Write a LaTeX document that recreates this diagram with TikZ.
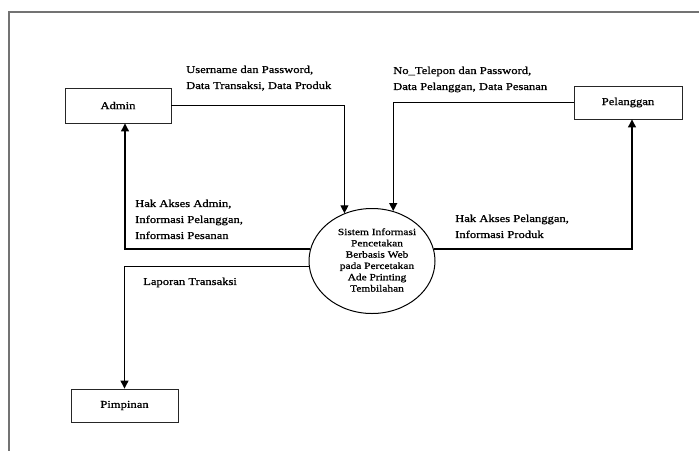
\documentclass[tikz,border=0pt]{standalone}
\usepackage{fontspec}
\setmainfont{Liberation Serif}[FakeStretch=1.2,FakeBold=0.9]
\usetikzlibrary{arrows.meta,shapes.geometric}
\begin{document}
\begin{tikzpicture}[x=1pt,y=-1pt,
  entity/.style={draw=black!85,line width=0.9pt,minimum width=106pt,minimum height=35pt,
    inner sep=0pt,font=\fontsize{10.5}{12}\selectfont},
  flow/.style={line width=1.2pt,-{Triangle[length=8pt,width=8pt]}},
  lbl/.style={anchor=north west,inner sep=0pt,align=left,font=\fontsize{10.5}{16}\selectfont}]
\useasboundingbox (0,0) rectangle (699,451);
% page frame
\draw[black!55, line width=1.3pt] (699,12) -- (9,12) -- (9,451);

% external entities
\node[entity] (admin) at (118,105.5) {Admin};
\node[entity, minimum width=108pt, minimum height=33pt] (pel) at (628,102.5) {Pelanggan};
\node[entity, minimum width=107pt, minimum height=33pt] (pimp) at (124.5,405.5) {Pimpinan};

% process
\node[draw, ellipse, line width=1pt, minimum width=126pt, minimum height=105pt, inner sep=0pt] (sys) at (372,261) {};
\node[inner sep=0pt, align=center, font=\fontsize{9.5}{11.3}\selectfont] (systext) at (377,260)
  {Sistem Informasi\\Pencetakan\\Berbasis Web\\pada Percetakan\\Ade Printing\\Tembilahan};

% data flows
\draw[flow] (admin.east) -| (sys.120);
\draw[flow] (pel.west) -| (sys.67);
\draw[flow] (sys.169) -| ([xshift=7pt]admin.south);
\draw[flow] (sys.185.5) -| (pimp.north);
\draw[flow] (sys.11) -| ([xshift=4pt]pel.south);

% flow labels
\node[lbl] (l1) at (186,65.5) {Username dan Password,\\Data Transaksi, Data Produk};
\node[lbl] (l2) at (393,66.5) {No\_Telepon dan Password,\\Data Pelanggan, Data Pesanan};
\node[lbl] (l3) at (135,199.5) {Hak Akses Admin,\\Informasi Pelanggan,\\Informasi Pesanan};
\node[lbl] (l4) at (143,277.5) {Laporan Transaksi};
\node[lbl] (l5) at (455,214.5) {Hak Akses Pelanggan,\\Informasi Produk};
\end{tikzpicture}
\end{document}
